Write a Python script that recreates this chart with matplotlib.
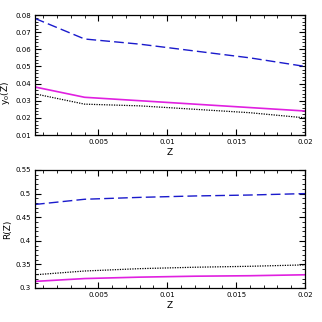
import matplotlib
matplotlib.use("Agg")
import matplotlib.pyplot as plt
from matplotlib.ticker import MultipleLocator, FuncFormatter

Z = [0.0004, 0.004, 0.008, 0.012, 0.016, 0.02]
y0_blue = [0.078, 0.066, 0.063, 0.059, 0.055, 0.050]
y0_magenta = [0.038, 0.032, 0.030, 0.028, 0.026, 0.024]
y0_black = [0.034, 0.028, 0.027, 0.025, 0.023, 0.020]
R_blue = [0.477, 0.488, 0.492, 0.495, 0.497, 0.500]
R_black = [0.328, 0.336, 0.341, 0.344, 0.346, 0.349]
R_magenta = [0.314, 0.320, 0.323, 0.325, 0.326, 0.328]

fig = plt.figure(figsize=(3.22, 3.22), dpi=100)
ax1 = fig.add_axes([35/322, 1-135/322, 270/322, 120/322])
ax2 = fig.add_axes([35/322, 1-288/322, 270/322, 118/322])

def fmt(v, p):
    s = ('%.3f' % v).rstrip('0').rstrip('.')
    return s

for ax in (ax1, ax2):
    ax.set_xlim(0.0004, 0.02)
    ax.xaxis.set_major_locator(MultipleLocator(0.005))
    ax.xaxis.set_minor_locator(MultipleLocator(0.001))
    ax.xaxis.set_major_formatter(FuncFormatter(fmt))
    ax.tick_params(which='both', direction='in', top=True, right=True, labelsize=5, pad=3)
    ax.tick_params(which='major', length=4, width=0.8)
    ax.tick_params(which='minor', length=2, width=0.6)
    ax.set_xlabel('Z', fontsize=6.5, labelpad=2)
    for s in ax.spines.values():
        s.set_linewidth(0.9)

ax1.plot(Z, y0_blue, color='#1a1acc', ls=(0, (7, 3)), lw=1.0)
ax1.plot(Z, y0_magenta, color='#e020e0', ls='-', lw=1.2)
ax1.plot(Z, y0_black, color='black', ls=(0, (1, 1)), lw=0.9)
ax1.set_ylim(0.01, 0.08)
ax1.yaxis.set_major_locator(MultipleLocator(0.01))
ax1.yaxis.set_minor_locator(MultipleLocator(0.002))
ax1.yaxis.set_major_formatter(FuncFormatter(fmt))
ax1.set_ylabel('y$_0$(Z)', fontsize=6.5, labelpad=2)
ax1.yaxis.set_label_coords(-0.085, 0.35)

ax2.plot(Z, R_blue, color='#1a1acc', ls=(0, (7, 3)), lw=1.0)
ax2.plot(Z, R_black, color='black', ls=(0, (1, 1)), lw=0.9)
ax2.plot(Z, R_magenta, color='#e020e0', ls='-', lw=1.2)
ax2.set_ylim(0.3, 0.55)
ax2.yaxis.set_major_locator(MultipleLocator(0.05))
ax2.yaxis.set_minor_locator(MultipleLocator(0.01))
ax2.yaxis.set_major_formatter(FuncFormatter(lambda v, p: ('%.2f' % v).rstrip('0').rstrip('.')))
ax2.set_ylabel('R(Z)', fontsize=6.5, labelpad=2)
ax2.yaxis.set_label_coords(-0.085, 0.5)

fig.savefig('out.png', dpi=100)
